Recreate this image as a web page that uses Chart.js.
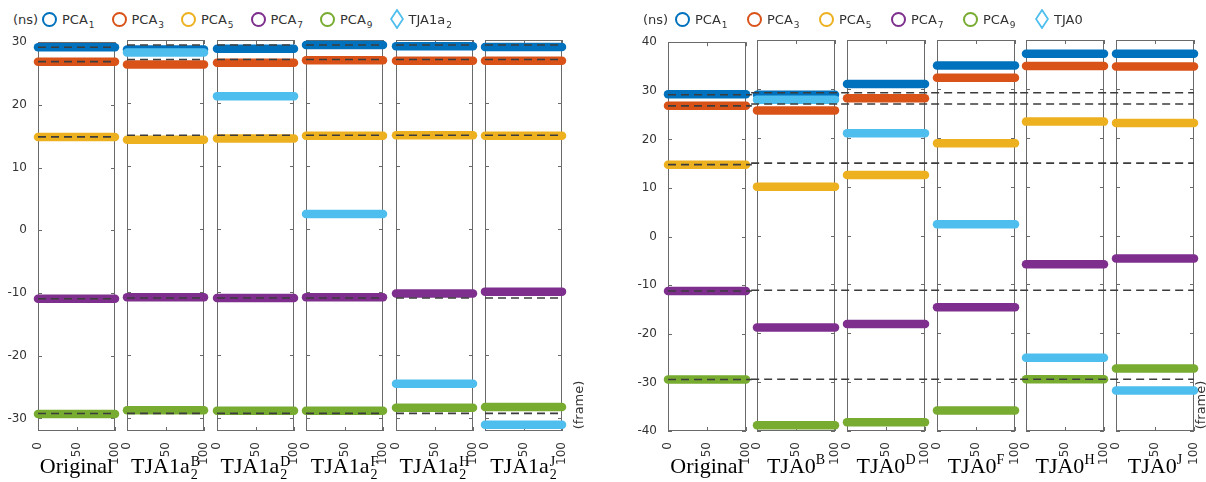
<!DOCTYPE html>
<html>
<head>
<meta charset="utf-8">
<script src="https://cdn.jsdelivr.net/npm/chart.js@4.4.1/dist/chart.umd.min.js"></script>
<style>
  body { margin: 0; background: #fff; width: 1206px; height: 482px; position: relative; overflow: hidden;
         font-family: 'DejaVu Sans', sans-serif; color: #333; }
  canvas { position: absolute; }
  .lg { position: absolute; top: 10px; height: 18px; display: flex; align-items: center; font-size: 13px; white-space: nowrap; }
  .lg sub { font-size: 9px; vertical-align: -4px; margin-left: 1px; line-height: 0; }
  .ring { width: 11px; height: 11px; border: 2px solid; border-radius: 50%; margin-right: 5px; }
  .grp { position: absolute; top: 453px; width: 130px; text-align: center; font: 22px 'Liberation Serif', serif; color: #000; }
  .ss { display: inline-block; vertical-align: -6px; font-size: 14px; line-height: 13px; text-align: left; margin-left: 1px; }
  .ss span { display: block; }
  .grp sup { font-size: 14px; vertical-align: 9px; line-height: 0; }
  .frame { position: absolute; width: 60px; height: 16px; font-size: 13px; text-align: center; transform: rotate(-90deg); }
</style>
</head>
<body>
<script>
// frames on the x axis of every panel
const frames = [0, 100];
const xTicks = [0, 50, 100];
const pcaNames = ['1', '3', '5', '7', '9'];
const pcaColors = ['#0072BD', '#D95319', '#EDB120', '#7E2F8E', '#77AC30'];
const tjaColor = '#4DBEEE';

// left figure: TJA1a2 variants
const leftSup = ['', 'B', 'D', 'F', 'H', 'J'];
const leftYTicks = [-30, -20, -10, 0, 10, 20, 30];
const leftRef = [29.2, 26.9, 14.9, -10.9, -29.2];
const leftPCA1 = [29.2, 28.5, 28.6, 29.2, 29.0, 28.9];
const leftPCA3 = [26.9, 26.1, 26.4, 26.8, 26.7, 26.7];
const leftPCA5 = [14.9, 14.2, 14.4, 14.8, 14.9, 14.8];
const leftPCA7 = [-10.9, -10.8, -10.9, -10.8, -10.2, -9.9];
const leftPCA9 = [-29.3, -28.7, -28.8, -28.8, -28.3, -28.2];
const leftTJA = [null, 28.0, 21.1, 2.4, -24.5, -31.0];

// right figure: TJA0 variants
const rightSup = ['', 'B', 'D', 'F', 'H', 'J'];
const rightYTicks = [-40, -30, -20, -10, 0, 10, 20, 30, 40];
const rightRef = [29.2, 26.9, 14.8, -11.2, -29.4];
const rightPCA1 = [29.3, 28.8, 31.0, 34.8, 37.2, 37.2];
const rightPCA3 = [26.9, 25.6, 28.1, 32.3, 34.7, 34.6];
const rightPCA5 = [14.8, 10.0, 12.4, 18.9, 23.3, 23.0];
const rightPCA7 = [-11.2, -18.8, -18.1, -14.7, -5.9, -4.7];
const rightPCA9 = [-29.4, -38.8, -38.2, -35.8, -29.4, -27.2];
const rightTJA = [null, 27.8, 20.9, 2.3, -25.0, -31.7];

Chart.defaults.font.family = "'DejaVu Sans', sans-serif";
Chart.defaults.font.size = 12;
Chart.defaults.color = '#333';

const BOX_TOP = 40, BOX_H = 391;

// box with inward ticks, like the matlab axes
const boxPlugin = {
  id: 'box',
  beforeDatasetsDraw(chart, args, opts) {
    const { ctx, chartArea: a, scales } = chart;
    ctx.save();
    ctx.strokeStyle = '#6a6a6a';
    ctx.lineWidth = 1;
    ctx.strokeRect(Math.round(a.left) + 0.5, Math.round(a.top) + 0.5, Math.round(a.width) - 1, Math.round(a.height) - 1);
    ctx.beginPath();
    opts.yTicks.forEach(v => {
      const y = Math.round(scales.y.getPixelForValue(v)) + 0.5;
      ctx.moveTo(a.left, y); ctx.lineTo(a.left + 4, y);
      ctx.moveTo(a.right, y); ctx.lineTo(a.right - 4, y);
    });
    xTicks.forEach(v => {
      const x = Math.round(scales.x.getPixelForValue(v)) + 0.5;
      ctx.moveTo(x, a.bottom); ctx.lineTo(x, a.bottom - 4);
      ctx.moveTo(x, a.top); ctx.lineTo(x, a.top + 4);
    });
    ctx.stroke();
    ctx.restore();
  }
};

function makePanel(fig, i) {
  const first = i === 0;
  const yW = first ? 30 : 0;
  const padX = 14, padT = 8, xH = 34, padB = 4;
  const w = yW + padX * 2 + fig.boxW, h = padT + BOX_H + xH + padB;
  const cv = document.createElement('canvas');
  cv.width = w; cv.height = h;
  cv.style.width = w + 'px'; cv.style.height = h + 'px';
  cv.style.left = (fig.lefts[i] - yW - padX) + 'px';
  cv.style.top = (BOX_TOP - padT) + 'px';
  document.body.appendChild(cv);

  const datasets = [];
  // dashed reference lines (values of the original), on top
  const x0 = fig.joinRefs && i > 0 ? frames[0] - 7.5 : frames[0];
  const x1 = fig.joinRefs && i < 5 ? frames[1] + 7.5 : frames[1];
  fig.ref.forEach(v => datasets.push({
    data: [{ x: x0, y: v }, { x: x1, y: v }],
    borderColor: '#3c3c3c', borderWidth: 1.6, borderDash: [8, 5],
    pointRadius: 0, order: 0, clip: false
  }));
  if (fig.tja[i] !== null) {
    datasets.push({
      data: frames.map(f => ({ x: f, y: fig.tja[i] })),
      borderColor: tjaColor, borderWidth: 8.5, borderCapStyle: 'round',
      pointRadius: 0, order: 1, clip: false
    });
  }
  fig.pca.forEach((arr, k) => datasets.push({
    data: frames.map(f => ({ x: f, y: arr[i] })),
    borderColor: pcaColors[k], borderWidth: 8.5, borderCapStyle: 'round',
    pointRadius: 0, order: 6 - k, clip: false
  }));

  new Chart(cv, {
    type: 'line',
    data: { datasets },
    plugins: [boxPlugin],
    options: {
      responsive: false,
      animation: false,
      events: [],
      layout: { padding: { left: padX, right: padX, top: padT, bottom: padB } },
      plugins: { legend: { display: false }, tooltip: { enabled: false }, box: { yTicks: fig.yTicks } },
      scales: {
        x: {
          type: 'linear', min: 0, max: 100,
          afterBuildTicks: s => { s.ticks = xTicks.map(v => ({ value: v })); },
          afterFit: s => { s.height = xH; s.paddingLeft = 0; s.paddingRight = 0; },
          ticks: { minRotation: 90, maxRotation: 90, autoSkip: false, padding: 3 },
          grid: { display: false }, border: { display: false }
        },
        y: {
          type: 'linear', min: fig.yMin, max: fig.yMax, display: first,
          afterBuildTicks: s => { s.ticks = fig.yTicks.map(v => ({ value: v })); },
          afterFit: s => { s.width = yW; },
          ticks: { padding: 3 },
          grid: { display: false }, border: { display: false }
        }
      }
    }
  });

  // group label under the panel
  const g = document.createElement('div');
  g.className = 'grp';
  g.style.left = (fig.lefts[i] + fig.boxW / 2 - 65) + 'px';
  const sup = fig.sup[i];
  if (!sup) g.textContent = 'Original';
  else if (fig.sub) g.innerHTML = fig.base + '<span class="ss"><span>' + sup + '</span><span>' + fig.sub + '</span></span>';
  else g.innerHTML = fig.base + '<sup>' + sup + '</sup>';
  document.body.appendChild(g);
}

function makeLegend(nsLeft, firstRing, step, tjaHtml) {
  const ns = document.createElement('div');
  ns.className = 'lg'; ns.style.left = nsLeft + 'px'; ns.textContent = '(ns)';
  document.body.appendChild(ns);
  pcaNames.forEach((n, k) => {
    const d = document.createElement('div');
    d.className = 'lg';
    d.style.left = (firstRing + k * step - 7) + 'px';
    d.innerHTML = '<span class="ring" style="border-color:' + pcaColors[k] + '"></span><span>PCA<sub>' + n + '</sub></span>';
    document.body.appendChild(d);
  });
  const t = document.createElement('div');
  t.className = 'lg';
  t.style.left = (firstRing + 5 * step - 7) + 'px';
  t.innerHTML = '<svg width="14" height="20" style="margin-right:5px"><polygon points="7,1 13,10 7,19 1,10" fill="none" stroke="' +
    tjaColor + '" stroke-width="1.8"/></svg><span>' + tjaHtml + '</span>';
  document.body.appendChild(t);
}

function makeFrameLabel(cx, cy) {
  const f = document.createElement('div');
  f.className = 'frame';
  f.style.left = (cx - 30) + 'px';
  f.style.top = (cy - 8) + 'px';
  f.textContent = '(frame)';
  document.body.appendChild(f);
}

const leftFig = {
  lefts: [38, 127, 217, 306, 396, 485], boxW: 77,
  yMin: -32, yMax: 30, yTicks: leftYTicks, ref: leftRef,
  pca: [leftPCA1, leftPCA3, leftPCA5, leftPCA7, leftPCA9], tja: leftTJA,
  sup: leftSup, base: 'TJA1a', sub: '2', joinRefs: false
};
const rightFig = {
  lefts: [668, 757, 847, 937, 1026, 1116], boxW: 78,
  yMin: -40, yMax: 40, yTicks: rightYTicks, ref: rightRef,
  pca: [rightPCA1, rightPCA3, rightPCA5, rightPCA7, rightPCA9], tja: rightTJA,
  sup: rightSup, base: 'TJA0', sub: '', joinRefs: true
};

for (let i = 0; i < 6; i++) makePanel(leftFig, i);
for (let i = 0; i < 6; i++) makePanel(rightFig, i);

makeLegend(13, 49, 69.5, 'TJA1a<sub>2</sub>');
makeLegend(643, 682, 72, 'TJA0');
makeFrameLabel(579, 405);
makeFrameLabel(1201, 405);
</script>
</body>
</html>
